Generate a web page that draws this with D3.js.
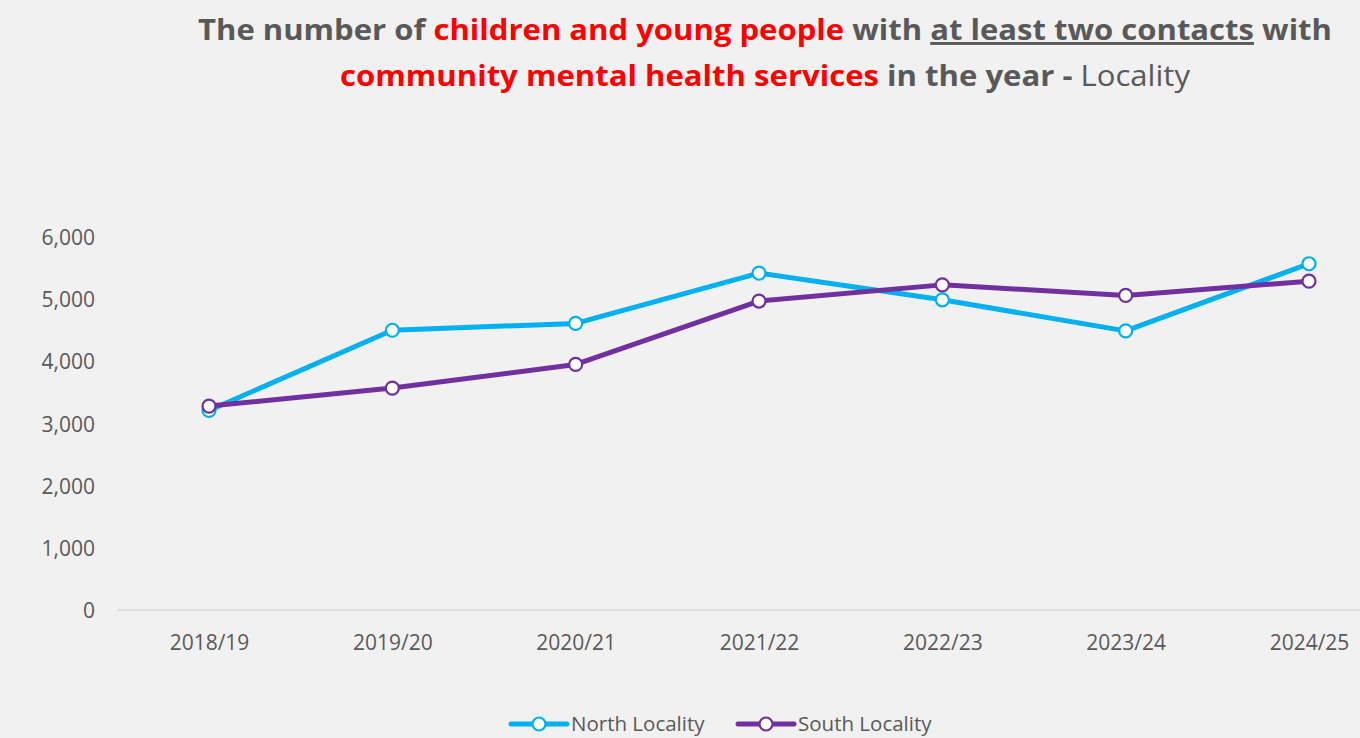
<!DOCTYPE html>
<html><head><meta charset="utf-8">
<script src="https://cdn.jsdelivr.net/npm/d3@7"></script>
<style>
html,body{margin:0;padding:0;background:#f2f1f1;overflow:hidden}
svg{display:block}
</style></head>
<body>
<svg id="chart" width="1360" height="738"></svg>
<script>
const categories = ["2018/19","2019/20","2020/21","2021/22","2022/23","2023/24","2024/25"];
const northValues = [3210, 4500, 4610, 5420, 4990, 4490, 5570];
const southValues = [3280, 3570, 3950, 4970, 5230, 5060, 5290];
const yTicks = [0, 1000, 2000, 3000, 4000, 5000, 6000];
const seriesNames = ["North Locality", "South Locality"];
const seriesColors = ["#00b0f0", "#7030a0"];

const svg = d3.select("#chart");
const W = 1360, H = 738;
svg.append("rect").attr("width", W).attr("height", H).attr("fill", "#f2f1f1");

const font = "'Open Sans', 'Liberation Sans', sans-serif";
const grey = "#595959";

// Title
const t1 = svg.append("text").attr("x", 198).attr("y", 40)
  .attr("font-family", font).attr("font-weight", "bold").attr("font-size", 29)
  .attr("fill", grey).attr("textLength", 1134).attr("lengthAdjust", "spacingAndGlyphs");
t1.append("tspan").text("The number of ");
t1.append("tspan").attr("fill", "#ff0000").text("children and young people");
t1.append("tspan").text(" with ");
t1.append("tspan").attr("text-decoration", "underline").text("at least two contacts");
t1.append("tspan").text(" with");

const t2 = svg.append("text").attr("x", 340).attr("y", 86)
  .attr("font-family", font).attr("font-weight", "bold").attr("font-size", 29)
  .attr("fill", grey).attr("textLength", 850).attr("lengthAdjust", "spacingAndGlyphs");
t2.append("tspan").attr("fill", "#ff0000").text("community mental health services");
t2.append("tspan").text(" in the year - ");
t2.append("tspan").attr("font-weight", "normal").text("Locality");

// Scales
const x = d3.scalePoint().domain(categories).range([209, 1309]);
const step = x.step();
const y = d3.scaleLinear().domain([0, 6000]).range([610, 237]);

// Y axis
const yAxis = d3.axisLeft(y).tickValues(yTicks).tickFormat(d3.format(",")).tickSize(0).tickPadding(0);
const yg = svg.append("g").attr("transform", "translate(95,0)").call(yAxis);
yg.select(".domain").remove();
yg.selectAll("text").attr("font-family", font).attr("font-size", 21).attr("fill", grey).attr("dy", "0.36em");

// X axis baseline
const xAxis = d3.axisBottom(x).tickSize(0).tickPadding(0);
const xg = svg.append("g").attr("transform", "translate(0,610)").call(xAxis);
xg.select(".domain").remove();
xg.append("line").attr("x1", x(categories[0]) - step / 2).attr("x2", x(categories[categories.length - 1]) + step / 2)
  .attr("y1", 0).attr("y2", 0).attr("stroke", "#d9d9d9").attr("stroke-width", 1.5);
xg.selectAll("text").attr("font-family", font).attr("font-size", 21).attr("fill", grey).attr("y", 40).attr("dy", 0);

// Lines
const series = [northValues, southValues];
const line = d3.line().x((d, i) => x(categories[i])).y(d => y(d));
series.forEach((vals, si) => {
  svg.append("path").datum(vals).attr("d", line).attr("fill", "none")
    .attr("stroke", seriesColors[si]).attr("stroke-width", 5).attr("stroke-linejoin", "round");
});
series.forEach((vals, si) => {
  svg.selectAll(null).data(vals).enter().append("circle")
    .attr("cx", (d, i) => x(categories[i])).attr("cy", d => y(d)).attr("r", 6.5)
    .attr("fill", "#ffffff").attr("stroke", seriesColors[si]).attr("stroke-width", 2.2);
});

// Legend
const legendX = [511, 738];
seriesNames.forEach((name, si) => {
  const g = svg.append("g").attr("transform", `translate(${legendX[si]},724)`);
  g.append("line").attr("x1", 0).attr("x2", 56).attr("y1", 0).attr("y2", 0)
    .attr("stroke", seriesColors[si]).attr("stroke-width", 5).attr("stroke-linecap", "round");
  g.append("circle").attr("cx", 28).attr("cy", 0).attr("r", 6.5).attr("fill", "#fff")
    .attr("stroke", seriesColors[si]).attr("stroke-width", 2.2);
  g.append("text").attr("x", 60).attr("y", 0).attr("dy", "0.35em")
    .attr("font-family", font).attr("font-size", 20.5).attr("fill", grey).text(name);
});
</script>
</body></html>
